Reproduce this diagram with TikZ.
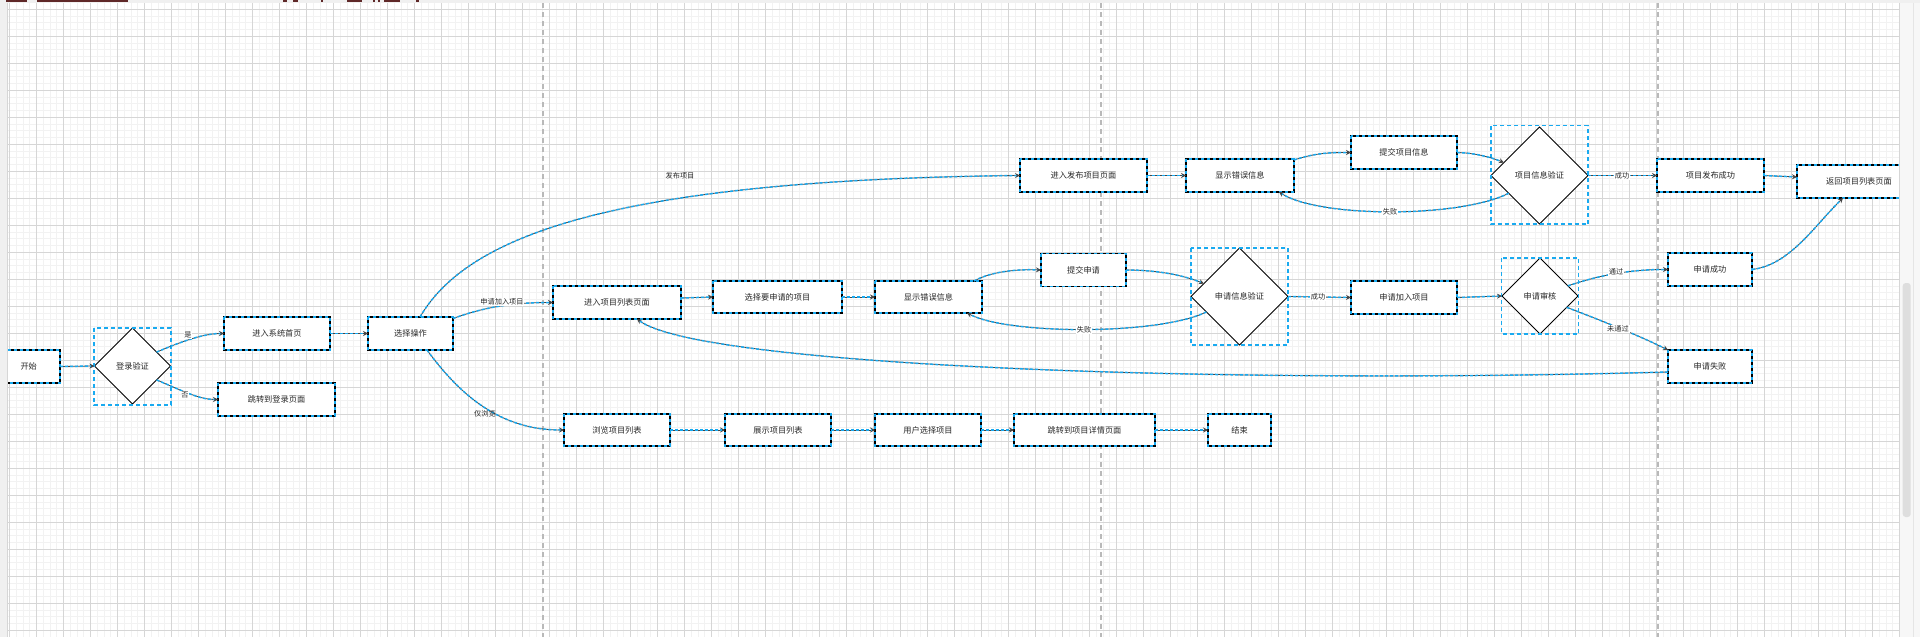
\documentclass[tikz,border=0pt]{standalone}
\usepackage{fontspec}
\setmainfont{Noto Sans CJK SC}
\usetikzlibrary{shapes.geometric,arrows.meta}
\definecolor{selblue}{RGB}{25,170,240}
\definecolor{lgray}{RGB}{70,70,70}
\definecolor{txt}{RGB}{40,40,40}
\definecolor{gminor}{RGB}{242,242,242}
\definecolor{gmajor}{RGB}{214,214,214}
\definecolor{pagebrk}{RGB}{185,185,185}
\definecolor{tbar}{RGB}{95,40,40}
\definecolor{sidegray}{RGB}{240,240,240}
\tikzset{
 box/.style={rectangle, draw=black, line width=1.3pt, fill=white, inner sep=0pt, outer sep=0pt,
   font=\fontsize{8.2pt}{10pt}\selectfont, text=txt},
 boxsel/.style={draw=selblue, line width=1.3pt, dash pattern=on 3pt off 3pt},
 diasel/.style={draw=selblue, line width=1.2pt, dash pattern=on 4pt off 3pt},
 dia/.style={diamond, aspect=1, draw=black, line width=0.9pt, fill=white, inner sep=0pt, outer sep=0pt,
   font=\fontsize{8.2pt}{10pt}\selectfont, text=txt},
 conn/.style={draw=lgray, line width=0.8pt, -{Stealth[length=5pt,width=5pt]}},
 sel/.style={draw=selblue, line width=1.5pt, dash pattern=on 3pt off 2pt, shorten >=3.5pt},
 lbl/.style={font=\fontsize{7.2pt}{8pt}\selectfont, text=txt, inner sep=0.8pt, fill=white},
 lblnf/.style={font=\fontsize{7.2pt}{8pt}\selectfont, text=txt, inner sep=0.8pt},
}
\newcommand\bx[6]{\node[box, minimum width=#4pt, minimum height=#5pt] (#1) at (#2,#3) {#6};
  \draw[boxsel] (#1.north west) rectangle (#1.south east);}
\newcommand\cn[1]{\draw[conn] #1; \draw[sel] #1;}
\begin{document}
\begin{tikzpicture}[x=1pt,y=-1pt]
\useasboundingbox (0,0) rectangle (1920,637);
\fill[white] (0,0) rectangle (1920,637);
% grid
\foreach \k in {0,...,280} {\draw[gminor, line width=0.5pt] ({9.4+6.75*\k},3) -- ({9.4+6.75*\k},637);}
\foreach \k in {0,...,93} {\draw[gminor, line width=0.5pt] (7,{9+6.75*\k}) -- (1900,{9+6.75*\k});}
\foreach \k in {0,...,70} {\draw[gmajor, line width=0.7pt] ({9.4+27*\k},3) -- ({9.4+27*\k},637);}
\foreach \k in {0,...,23} {\draw[gmajor, line width=0.7pt] (7,{9+27*\k}) -- (1900,{9+27*\k});}
% page breaks
\foreach \px in {543,1101,1658} {\draw[pagebrk, line width=1.1pt, dash pattern=on 5pt off 4pt] (\px,3) -- (\px,637);}

% nodes
\bx{start}{33.5}{366.5}{53}{33}{\kern-9.6pt 开始}
\node[dia, minimum width=76pt, minimum height=76pt] (login) at (132.5,366) {登录验证};
\draw[diasel] (94,328) rectangle (171,405);
\bx{home}{277}{333.5}{106}{33}{进入系统首页}
\bx{jump}{276.5}{399.5}{117}{33}{跳转到登录页面}
\bx{choose}{410.5}{333.5}{85}{33}{选择操作}
\bx{listpage}{617}{302.5}{128}{33}{进入项目列表页面}
\bx{selproj}{777.5}{297}{129}{32}{选择要申请的项目}
\bx{errb}{928.5}{297}{107}{32}{显示错误信息}
\bx{submit}{1083.5}{270}{85}{33}{提交申请}
\node[dia, minimum width=97pt, minimum height=97pt] (verify) at (1239.5,296.5) {申请信息验证};
\draw[diasel] (1191,248) rectangle (1288,345);
\bx{join}{1404}{297.5}{106}{33}{申请加入项目}
\node[dia, minimum width=76pt, minimum height=76pt] (audit) at (1540,296) {申请审核};
\draw[diasel] (1501.5,258) rectangle (1578.5,334);
\bx{okay}{1710}{269.5}{84}{33}{申请成功}
\bx{fail}{1710}{366.5}{84}{33}{申请失败}
\bx{publish}{1083.5}{175.5}{127}{33}{进入发布项目页面}
\bx{erra}{1240}{175.5}{108}{33}{显示错误信息}
\bx{subinfo}{1404}{152.5}{106}{33}{提交项目信息}
\node[dia, minimum width=97pt, minimum height=97pt] (pverify) at (1539.5,175.5) {项目信息验证};
\draw[diasel] (1491,125.5) rectangle (1588,224);
\bx{pubok}{1710.5}{175.5}{107}{33}{项目发布成功}
\bx{ret}{1859}{181.5}{124}{33}{返回项目列表页面}
\bx{browse}{617}{430}{106}{32}{浏览项目列表}
\bx{show}{778}{430}{106}{32}{展示项目列表}
\bx{pick}{928}{430}{106}{32}{用户选择项目}
\bx{detail}{1084.5}{430}{141}{32}{跳转到项目详情页面}
\bx{finish}{1239.5}{430}{63}{32}{结束}

% connectors
\cn{(start.east) -- (login.west)}
\cn{(login.30) .. controls (185,340) and (205,333.5) .. (home.west)}
\cn{(login.-30) .. controls (185,392) and (200,399.5) .. (jump.west)}
\cn{(home.east) -- (choose.west)}
\cn{([xshift=9.5pt]choose.north) .. controls (465,240) and (600,180) .. (publish.west)}
\cn{([yshift=-1.5pt]choose.north east) .. controls (490,305) and (520,302.5) .. (listpage.west)}
\cn{([xshift=16.5pt]choose.south) .. controls (460,395) and (500,430) .. (browse.west)}
\cn{([yshift=4.5pt]listpage.east) -- (selproj.west)}
\cn{(selproj.east) -- (errb.west)}
\cn{([xshift=-8pt]errb.north east) .. controls (990,272) and (1015,269) .. (submit.west)}
\cn{(submit.east) .. controls (1160,270) and (1185,276) .. (verify.160)}
\cn{(verify.205) .. controls (1160,335) and (1010,335) .. ([xshift=38.5pt]errb.south)}
\cn{(verify.east) -- (join.west)}
\cn{(join.east) -- (audit.west)}
\cn{(audit.20) .. controls (1600,275) and (1630,269.5) .. (okay.west)}
\cn{(audit.-23) .. controls (1600,320) and (1640,336) .. (fail.north west)}
\cn{(okay.east) .. controls (1790,265) and (1815,225) .. ([xshift=-16pt]ret.south)}
\cn{([yshift=-5.5pt]fail.west) .. controls (1200,385) and (700,365) .. ([xshift=20pt]listpage.south)}
\cn{(publish.east) -- (erra.west)}
\cn{([yshift=-1pt]erra.north east) .. controls (1315,153) and (1330,152.5) .. (subinfo.west)}
\cn{(subinfo.east) .. controls (1475,153) and (1490,157) .. (pverify.160)}
\cn{(pverify.210) .. controls (1460,218) and (1320,218) .. ([xshift=39pt]erra.south)}
\cn{(pverify.east) -- (pubok.west)}
\cn{(pubok.east) -- ([yshift=4.5pt]ret.west)}
\cn{(browse.east) -- (show.west)}
\cn{(show.east) -- (pick.west)}
\cn{(pick.east) -- (detail.west)}
\cn{(detail.east) -- (finish.west)}

% labels
\node[lbl] (l1) at (188,335) {是};
\node[lbl] (l2) at (185,395) {否};
\node[lblnf] (l3) at (680,176) {发布项目};
\node[lbl] (l4) at (502,302) {申请加入项目};
\node[lblnf] (l5) at (485,414) {仅浏览};
\node[lbl] (l6) at (1390,212) {失败};
\node[lbl] (l7) at (1084,330) {失败};
\node[lbl] (l8) at (1318,297) {成功};
\node[lbl] (l9) at (1622,176) {成功};
\node[lbl] (l10) at (1616,272) {通过};
\node[lbl] (l11) at (1618,329) {未通过};

% editor chrome
\fill[sidegray] (0,0) rectangle (7,637);
\draw[gmajor, line width=0.6pt] (7,3) -- (7,637);
\fill[sidegray] (0,0) rectangle (1920,2.5);
\foreach \a/\b in {6/27,37/128,283/287,293/298,321/323,347/362,373/375,378/380,384/400,416/419}
  {\fill[tbar] (\a,0) rectangle (\b,1.7);}
\fill[white!97!black] (1900,2.5) rectangle (1920,637);
\draw[gmajor, line width=0.6pt] (1899.5,2.5) -- (1899.5,637);
\draw[white!90!black, line width=0.5pt] (1913.5,2.5) -- (1913.5,637);
\fill[white!87!black, rounded corners=3pt] (1902.7,283) rectangle (1910.7,517);
\end{tikzpicture}
\end{document}
